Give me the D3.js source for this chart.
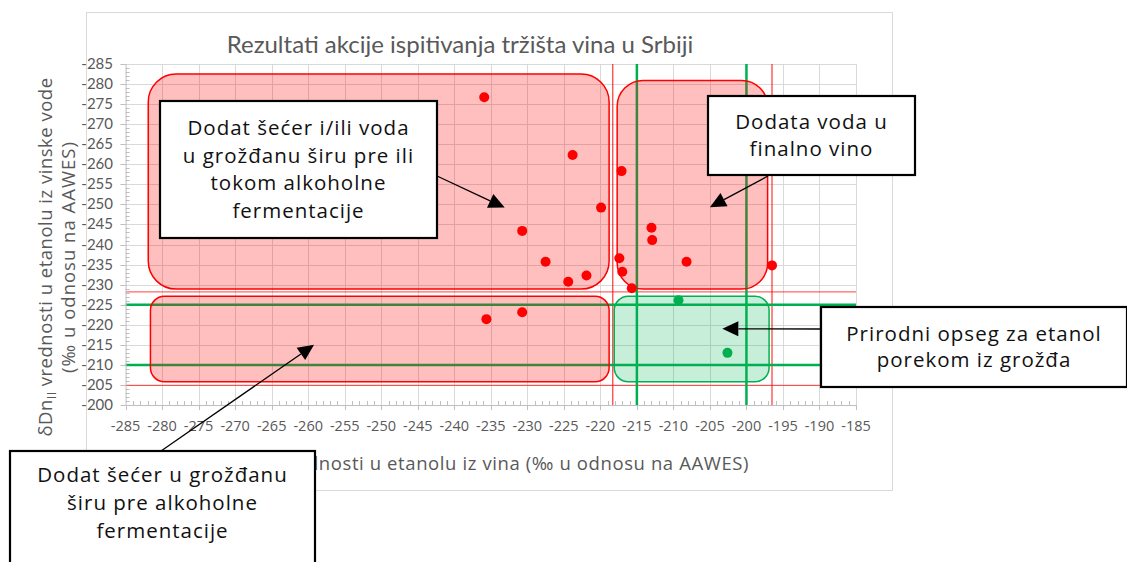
<!DOCTYPE html>
<html>
<head>
<meta charset="utf-8">
<script src="https://cdn.jsdelivr.net/npm/d3@7"></script>
<style>
  body { margin: 0; background: #fff; }
  svg { display: block; }
</style>
</head>
<body>
<div id="chart"></div>
<script>
// samples outside the natural range (red) and inside it (green)
var redX = [-235.9, -223.8, -217.1, -219.9, -230.7, -227.5, -221.9, -224.4, -217.4, -217.0, -215.7, -230.7, -235.6, -213.0, -212.9, -208.2, -196.5];
var redY = [-276.7, -262.3, -258.3, -249.2, -243.4, -235.7, -232.3, -230.7, -236.6, -233.2, -229.1, -223.1, -221.4, -244.2, -241.1, -235.7, -234.8];
var greenX = [-209.3, -202.6];
var greenY = [-226.1, -213.0];

// limits of the natural range and of the uncertainty band
var greenLimX = [-215, -200];
var greenLimY = [-225, -210];
var redLimX = [-218.3, -196.5];
var redLimY = [-228.2, -204.9];

var xTicks = d3.range(-285, -184, 5);
var yTicks = d3.range(-285, -199, 5);

var title = "Rezultati akcije ispitivanja tržišta vina u Srbiji";

// zones: [x0, x1, y0, y1] in data units
var zones = [
  { ext: [-281.9, -218.8, -282.5, -228.9], kind: "red", r: 28 },
  { ext: [-217.7, -197.1, -280.9, -228.9], kind: "red", r: 26 },
  { ext: [-281.6, -218.8, -227.1, -205.8], kind: "red", r: 14 },
  { ext: [-218.1, -196.9, -227.1, -205.8], kind: "green", r: 14 }
];

var W = 1127, H = 562;
var svg = d3.select("#chart").append("svg").attr("width", W).attr("height", H);

var x = d3.scaleLinear().domain([-285, -185]).range([125.6, 856]);
var y = d3.scaleLinear().domain([-285, -200]).range([64, 405]);

var RED = "#ff0000", GREEN = "#00b050", GRAY = "#595959";
var sans = "'Open Sans', 'Noto Sans', sans-serif";
var calibri = "Lato, 'Open Sans', sans-serif";

// chart frame
svg.append("rect")
  .attr("x", 86.5).attr("y", 12.5).attr("width", 806).attr("height", 478)
  .attr("fill", "#fff").attr("stroke", "#d9d9d9");

svg.append("text")
  .attr("x", 460).attr("y", 53)
  .attr("text-anchor", "middle")
  .attr("font-family", calibri).attr("font-size", 24)
  .attr("fill", GRAY)
  .text(title);

// grid
var grid = svg.append("g").attr("stroke", "#d9d9d9").attr("stroke-width", 1);
grid.selectAll(".gx").data(xTicks.slice(1)).enter().append("line")
  .attr("x1", function(d){ return Math.round(x(d)) + 0.5; })
  .attr("x2", function(d){ return Math.round(x(d)) + 0.5; })
  .attr("y1", y(-285)).attr("y2", y(-200) + 4);
grid.selectAll(".gy").data(yTicks.slice(0, -1)).enter().append("line")
  .attr("x1", x(-285) - 5).attr("x2", x(-185))
  .attr("y1", function(d){ return Math.round(y(d)) + 0.5; })
  .attr("y2", function(d){ return Math.round(y(d)) + 0.5; });

// reference lines
var refs = svg.append("g");
refs.selectAll(".rv").data(redLimX).enter().append("line")
  .attr("x1", function(d){ return x(d); }).attr("x2", function(d){ return x(d); })
  .attr("y1", y(-285)).attr("y2", y(-200))
  .attr("stroke", RED).attr("stroke-opacity", 0.8).attr("stroke-width", 1.2);
refs.selectAll(".rh").data(redLimY).enter().append("line")
  .attr("x1", x(-285)).attr("x2", x(-185))
  .attr("y1", function(d){ return y(d); }).attr("y2", function(d){ return y(d); })
  .attr("stroke", RED).attr("stroke-opacity", 0.6).attr("stroke-width", 1.2);
refs.selectAll(".gv").data(greenLimX).enter().append("line")
  .attr("x1", function(d){ return x(d); }).attr("x2", function(d){ return x(d); })
  .attr("y1", y(-285)).attr("y2", y(-200))
  .attr("stroke", GREEN).attr("stroke-width", 2.5);
refs.selectAll(".gh").data(greenLimY).enter().append("line")
  .attr("x1", x(-285)).attr("x2", x(-185))
  .attr("y1", function(d){ return y(d); }).attr("y2", function(d){ return y(d); })
  .attr("stroke", GREEN).attr("stroke-width", 2.5);

// axes
var axisCol = "#bfbfbf";
var ax = svg.append("g").attr("stroke", axisCol).attr("stroke-width", 1);
ax.append("line").attr("x1", x(-285)).attr("x2", x(-185)).attr("y1", y(-200) + 0.5).attr("y2", y(-200) + 0.5);
ax.append("line").attr("x1", x(-285) + 0.5).attr("x2", x(-285) + 0.5).attr("y1", y(-285)).attr("y2", y(-200));
ax.selectAll(".mx").data(d3.range(-285, -184, 1)).enter().append("line")
  .attr("x1", function(d){ return Math.round(x(d)) + 0.5; })
  .attr("x2", function(d){ return Math.round(x(d)) + 0.5; })
  .attr("y1", y(-200)).attr("y2", function(d){ return d % 5 === 0 ? y(-200) + 5 : y(-200) - 4; });
ax.selectAll(".my").data(d3.range(-285, -199, 1)).enter().append("line")
  .attr("y1", function(d){ return Math.round(y(d)) + 0.5; })
  .attr("y2", function(d){ return Math.round(y(d)) + 0.5; })
  .attr("x1", x(-285)).attr("x2", function(d){ return d % 5 === 0 ? x(-285) - 5 : x(-285) + 4; });

svg.append("g").selectAll("text").data(xTicks).enter().append("text")
  .attr("x", function(d){ return x(d); }).attr("y", 431)
  .attr("text-anchor", "middle")
  .attr("font-family", sans).attr("font-size", 14.5).attr("fill", GRAY)
  .text(function(d){ return d; });

svg.append("g").selectAll("text").data(yTicks).enter().append("text")
  .attr("x", 113).attr("y", function(d){ return y(d) + 5; })
  .attr("text-anchor", "end")
  .attr("font-family", calibri).attr("font-size", 15).attr("fill", GRAY)
  .text(function(d){ return d; });

// axis titles
var yt = svg.append("text")
  .attr("transform", "translate(52,257) rotate(-90)")
  .attr("text-anchor", "middle")
  .attr("font-family", sans).attr("font-size", 18.5).attr("letter-spacing", 0.5).attr("fill", GRAY);
yt.append("tspan").text("δDn");
yt.append("tspan").attr("font-size", 12).attr("dy", 4).text("II");
yt.append("tspan").attr("dy", -4).text(" vrednosti u etanolu iz vinske vode");
svg.append("text")
  .attr("transform", "translate(75,257) rotate(-90)")
  .attr("text-anchor", "middle")
  .attr("font-family", sans).attr("font-size", 18.5).attr("letter-spacing", 1.0).attr("fill", GRAY)
  .text("(‰ u odnosu na AAWES)");

var xt = svg.append("text")
  .attr("x", 490).attr("y", 470)
  .attr("text-anchor", "middle")
  .attr("font-family", sans).attr("font-size", 18.5).attr("letter-spacing", 0.6).attr("fill", GRAY);
xt.append("tspan").text("δDn");
xt.append("tspan").attr("font-size", 12).attr("dy", 4).text("I");
xt.append("tspan").attr("dy", -4).text(" vrednosti u etanolu iz vina (‰ u odnosu na AAWES)");

// zones
svg.append("g").selectAll("rect").data(zones).enter().append("rect")
  .attr("x", function(d){ return x(d.ext[0]); })
  .attr("y", function(d){ return y(d.ext[2]); })
  .attr("width", function(d){ return x(d.ext[1]) - x(d.ext[0]); })
  .attr("height", function(d){ return y(d.ext[3]) - y(d.ext[2]); })
  .attr("rx", function(d){ return d.r; })
  .attr("fill", function(d){ return d.kind === "red" ? RED : GREEN; })
  .attr("fill-opacity", function(d){ return d.kind === "red" ? 0.25 : 0.22; })
  .attr("stroke", function(d){ return d.kind === "red" ? RED : GREEN; })
  .attr("stroke-width", 1.5);

// points
svg.append("g").selectAll("circle").data(redX).enter().append("circle")
  .attr("cx", function(d){ return x(d); })
  .attr("cy", function(d, i){ return y(redY[i]); })
  .attr("r", 5).attr("fill", RED);
svg.append("g").selectAll("circle").data(greenX).enter().append("circle")
  .attr("cx", function(d){ return x(d); })
  .attr("cy", function(d, i){ return y(greenY[i]); })
  .attr("r", 5).attr("fill", GREEN);

// callouts: box in pixels, arrow tip in data units
var callouts = [
  { lines: ["Dodat šećer i/ili voda", "u grožđanu širu pre ili", "tokom alkoholne", "fermentacije"],
    box: [160, 101, 437, 238], from: [437, 176], tip: [-233.1, -249.2], lh: 27.5 },
  { lines: ["Dodata voda u", "finalno vino"],
    box: [708, 96, 915, 175], from: [768, 176], tip: [-205.0, -249.3], lh: 26.6 },
  { lines: ["Prirodni opseg za etanol", "porekom iz grožđa"],
    box: [821, 307, 1127, 387], from: [821, 329], tip: [-203.3, -219.0], lh: 26.6 },
  { lines: ["Dodat šećer u grožđanu", "širu pre alkoholne", "fermentacije"],
    box: [10, 451, 315, 580], from: [161, 451], tip: [-259.2, -215.0], lh: 28.3,
    textMid: 503 }
];

callouts.forEach(function(c){
  var g = svg.append("g");
  var tx = x(c.tip[0]), ty = y(c.tip[1]);
  var dx = tx - c.from[0], dy = ty - c.from[1];
  var len = Math.sqrt(dx * dx + dy * dy), ux = dx / len, uy = dy / len;
  var hl = 16, hw = 7.5;
  var bx = tx - ux * hl, by = ty - uy * hl;
  g.append("line")
    .attr("x1", c.from[0]).attr("y1", c.from[1]).attr("x2", bx).attr("y2", by)
    .attr("stroke", "#000").attr("stroke-width", 1.3);
  g.append("path")
    .attr("d", "M" + tx + "," + ty + "L" + (bx - uy * hw) + "," + (by + ux * hw) +
               "L" + (bx + uy * hw) + "," + (by - ux * hw) + "Z")
    .attr("fill", "#000");
  g.append("rect")
    .attr("x", c.box[0]).attr("y", c.box[1])
    .attr("width", c.box[2] - c.box[0]).attr("height", c.box[3] - c.box[1])
    .attr("fill", "#fff").attr("stroke", "#000").attr("stroke-width", 2.2);
  var cx = (c.box[0] + c.box[2]) / 2;
  var mid = c.textMid || (c.box[1] + c.box[3]) / 2;
  var top = mid - (c.lines.length - 1) * c.lh / 2;
  g.selectAll("text").data(c.lines).enter().append("text")
    .attr("x", cx).attr("y", function(d, i){ return top + i * c.lh; })
    .attr("dy", "0.35em")
    .attr("text-anchor", "middle")
    .attr("font-family", sans).attr("font-size", 20.5).attr("letter-spacing", 1.0).attr("fill", "#111")
    .text(function(d){ return d; });
});
</script>
</body>
</html>
